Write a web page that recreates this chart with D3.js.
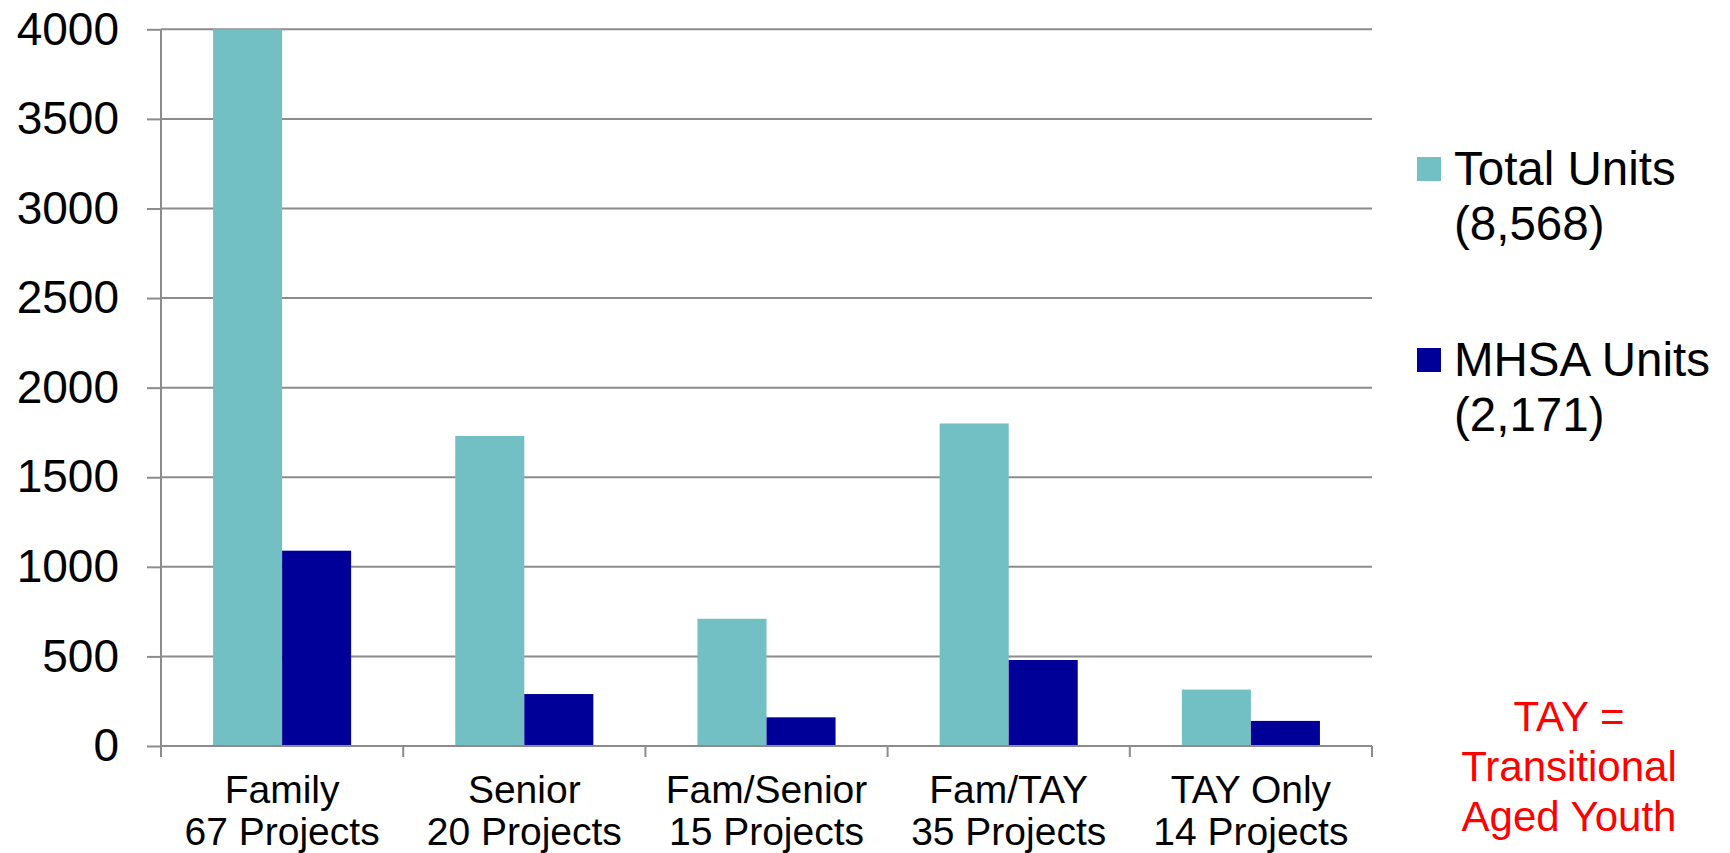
<!DOCTYPE html>
<html>
<head>
<meta charset="utf-8">
<script src="https://cdn.jsdelivr.net/npm/d3@7"></script>
<style>
  html, body { margin: 0; padding: 0; background: #fff; }
  svg { display: block; font-family: "Liberation Sans", Arial, sans-serif; }
</style>
</head>
<body>
<svg id="chart" width="1730" height="853"></svg>
<script>
const categories = ["Family", "Senior", "Fam/Senior", "Fam/TAY", "TAY Only"];
const projectLabels = ["67 Projects", "20 Projects", "15 Projects", "35 Projects", "14 Projects"];
const totalUnits = [4000, 1730, 710, 1800, 315];
const mhsaUnits = [1090, 290, 160, 480, 140];
const seriesNames = ["Total Units", "MHSA Units"];
const seriesTotals = ["(8,568)", "(2,171)"];
const seriesColors = ["#72BFC4", "#000099"];
const yTicks = [0, 500, 1000, 1500, 2000, 2500, 3000, 3500, 4000];
const noteLines = ["TAY =", "Transitional", "Aged Youth"];

(function () {
const svg = d3.select("#chart");
const pLeft = 161, pRight = 1372, pTop = 29.3, pBottom = 746;

const x0 = d3.scaleBand().domain(categories).range([pLeft, pRight]).paddingInner(0).paddingOuter(0);
const x1 = d3.scaleBand().domain(seriesNames).range([0, x0.bandwidth()]).paddingInner(0).paddingOuter(0.754);
const y = d3.scaleLinear().domain([0, 4000]).range([pBottom, pTop]);

const gridColor = "#8c8c8c";

// gridlines
svg.append("g").selectAll("line").data(yTicks.filter(d => d > 0)).join("line")
  .attr("x1", pLeft).attr("x2", pRight)
  .attr("y1", d => y(d)).attr("y2", d => y(d))
  .attr("stroke", gridColor).attr("stroke-width", 2);

// y axis
const yAxis = d3.axisLeft(y).tickValues(yTicks).tickSize(14).tickPadding(28).tickFormat(d3.format("d"));
const gy = svg.append("g").attr("transform", `translate(${pLeft},0)`).call(yAxis);
gy.select(".domain").remove();
gy.selectAll(".tick line").attr("stroke", gridColor).attr("stroke-width", 2);
gy.selectAll(".tick text").attr("font-size", 46).attr("fill", "#000")
  .attr("font-family", "Liberation Sans, Arial, sans-serif");
svg.append("line").attr("x1", pLeft).attr("x2", pLeft).attr("y1", pTop).attr("y2", pBottom + 11)
  .attr("stroke", gridColor).attr("stroke-width", 2);

// bars
const groups = svg.append("g").selectAll("g").data(categories).join("g")
  .attr("transform", d => `translate(${x0(d)},0)`);
groups.selectAll("rect").data((d, i) => [
    {s: seriesNames[0], v: totalUnits[i], c: seriesColors[0]},
    {s: seriesNames[1], v: mhsaUnits[i], c: seriesColors[1]}])
  .join("rect")
  .attr("x", d => x1(d.s))
  .attr("width", x1.bandwidth())
  .attr("y", d => y(d.v))
  .attr("height", d => y(0) - y(d.v))
  .attr("fill", d => d.c);

// x axis
const xAxis = d3.axisBottom(x0).tickSize(0).tickFormat("");
const gx = svg.append("g").attr("transform", `translate(0,${pBottom})`).call(xAxis);
gx.select(".domain").attr("stroke", gridColor).attr("stroke-width", 2).attr("d", `M${pLeft},0H${pRight}`);
const boundaries = categories.map(c => x0(c)).concat([pRight]);
svg.append("g").selectAll("line").data(boundaries).join("line")
  .attr("x1", d => d).attr("x2", d => d).attr("y1", pBottom).attr("y2", pBottom + 11)
  .attr("stroke", gridColor).attr("stroke-width", 2);

// x labels
const xl = svg.append("g").selectAll("text").data(categories).join("text")
  .attr("text-anchor", "middle").attr("font-size", 39).attr("fill", "#000");
xl.append("tspan").attr("x", d => x0(d) + x0.bandwidth() / 2).attr("y", 803).text(d => d);
xl.append("tspan").attr("x", d => x0(d) + x0.bandwidth() / 2).attr("y", 845).text((d, i) => projectLabels[i]);

// legend
const legY = [157, 348];
const leg = svg.append("g").selectAll("g").data(seriesNames).join("g");
leg.append("rect").attr("x", 1417).attr("y", (d, i) => legY[i]).attr("width", 24).attr("height", 24)
  .attr("fill", (d, i) => seriesColors[i]);
const lt = leg.append("text").attr("font-size", 47.5).attr("fill", "#000");
lt.append("tspan").attr("x", 1454).attr("y", (d, i) => legY[i] + 28).text(d => d);
lt.append("tspan").attr("x", 1454).attr("y", (d, i) => legY[i] + 83).text((d, i) => seriesTotals[i]);

// note
svg.append("text").attr("text-anchor", "middle").attr("font-size", 42).attr("fill", "#ff0000")
  .selectAll("tspan").data(noteLines).join("tspan")
  .attr("x", 1569).attr("y", (d, i) => 731 + i * 50).text(d => d);
})();
</script>
</body>
</html>
